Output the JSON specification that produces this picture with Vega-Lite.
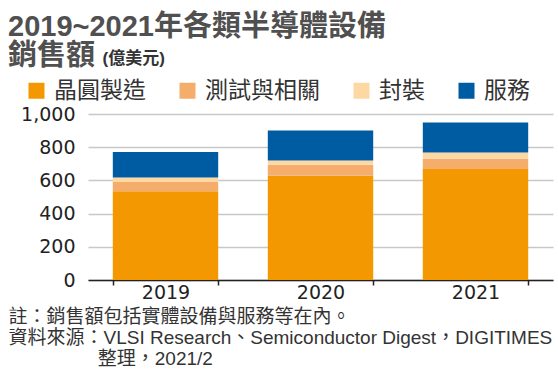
{
  "$schema": "https://vega.github.io/schema/vega-lite/v6.json",
  "width": 465,
  "height": 166,
  "autosize": {"type": "pad"},
  "padding": {"left": 8, "top": 13, "right": 5, "bottom": 0},
  "background": "white",
  "title": {
    "text": ["2019~2021年各類半導體設備", "銷售額"],
    "anchor": "start",
    "frame": "group",
    "dx": -80,
    "offset": -22,
    "font": "Liberation Sans, Noto Sans CJK TC",
    "fontSize": 29,
    "fontWeight": "bold",
    "color": "#505050",
    "lineHeight": 29
  },
  "data": {
    "values": [
      {"year": "2019", "cat": "晶圓製造", "k": 1, "v": 535},
      {"year": "2019", "cat": "測試與相關", "k": 2, "v": 56},
      {"year": "2019", "cat": "封裝", "k": 3, "v": 26},
      {"year": "2019", "cat": "服務", "k": 4, "v": 154},
      {"year": "2020", "cat": "晶圓製造", "k": 1, "v": 628},
      {"year": "2020", "cat": "測試與相關", "k": 2, "v": 66},
      {"year": "2020", "cat": "封裝", "k": 3, "v": 26},
      {"year": "2020", "cat": "服務", "k": 4, "v": 181},
      {"year": "2021", "cat": "晶圓製造", "k": 1, "v": 668},
      {"year": "2021", "cat": "測試與相關", "k": 2, "v": 62},
      {"year": "2021", "cat": "封裝", "k": 3, "v": 38},
      {"year": "2021", "cat": "服務", "k": 4, "v": 181}
    ]
  },
  "mark": {"type": "bar"},
  "encoding": {
    "x": {
      "field": "year",
      "type": "nominal",
      "scale": {"paddingInner": 0.32, "paddingOuter": 0.16},
      "axis": {
        "labelAngle": 0,
        "labelFont": "DejaVu Sans",
        "labelFontSize": 19,
        "labelColor": "#222222",
        "labelPadding": -2,
        "domainColor": "#222222",
        "domainWidth": 1.5,
        "tickColor": "#222222",
        "tickWidth": 1.5,
        "tickSize": 5,
        "tickBand": "extent",
        "title": ["註：銷售額包括實體設備與服務等在內。", "資料來源：VLSI Research、Semiconductor Digest，DIGITIMES", "\u200b　　　　\u2002\u2009整理，2021/2"],
        "titleX": -80,
        "titleY": 27,
        "titleAlign": "left",
        "titleBaseline": "top",
        "titleFont": "Liberation Sans, Noto Sans CJK TC",
        "titleFontSize": 19,
        "titleFontWeight": "normal",
        "titleColor": "#333333",
        "titleLineHeight": 21
      }
    },
    "y": {
      "field": "v",
      "type": "quantitative",
      "stack": "zero",
      "scale": {"domain": [0, 1000], "nice": false},
      "axis": {
        "values": [0, 200, 400, 600, 800, 1000],
        "format": ",d",
        "domain": false,
        "ticks": false,
        "grid": true,
        "gridColor": "#c8c8c8",
        "gridWidth": 1.5,
        "labelFont": "DejaVu Sans",
        "labelFontSize": 19,
        "labelColor": "#222222",
        "labelPadding": 13,
        "title": "(億美元)",
        "titleAngle": 0,
        "titleAlign": "left",
        "titleBaseline": "middle",
        "titleX": 14,
        "titleY": -56,
        "titleFont": "Liberation Sans, Noto Sans CJK TC",
        "titleFontSize": 17,
        "titleFontWeight": "bold",
        "titleColor": "#333333"
      }
    },
    "color": {
      "field": "cat",
      "type": "nominal",
      "scale": {
        "domain": ["晶圓製造", "測試與相關", "封裝", "服務"],
        "range": ["#f39800", "#f5ad6b", "#fdd8a2", "#005ca2"]
      },
      "legend": {
        "orient": "none",
        "legendX": -63,
        "legendY": -35,
        "direction": "horizontal",
        "title": null,
        "symbolType": "square",
        "symbolSize": 256,
        "symbolStrokeWidth": 0,
        "symbolOpacity": 1,
        "labelFont": "Liberation Sans, Noto Sans CJK TC",
        "labelFontSize": 23,
        "labelColor": "#333333",
        "labelOffset": 6,
        "columnPadding": 30
      }
    },
    "order": {"field": "k", "type": "quantitative", "sort": "ascending"}
  },
  "config": {"view": {"stroke": null}}
}
